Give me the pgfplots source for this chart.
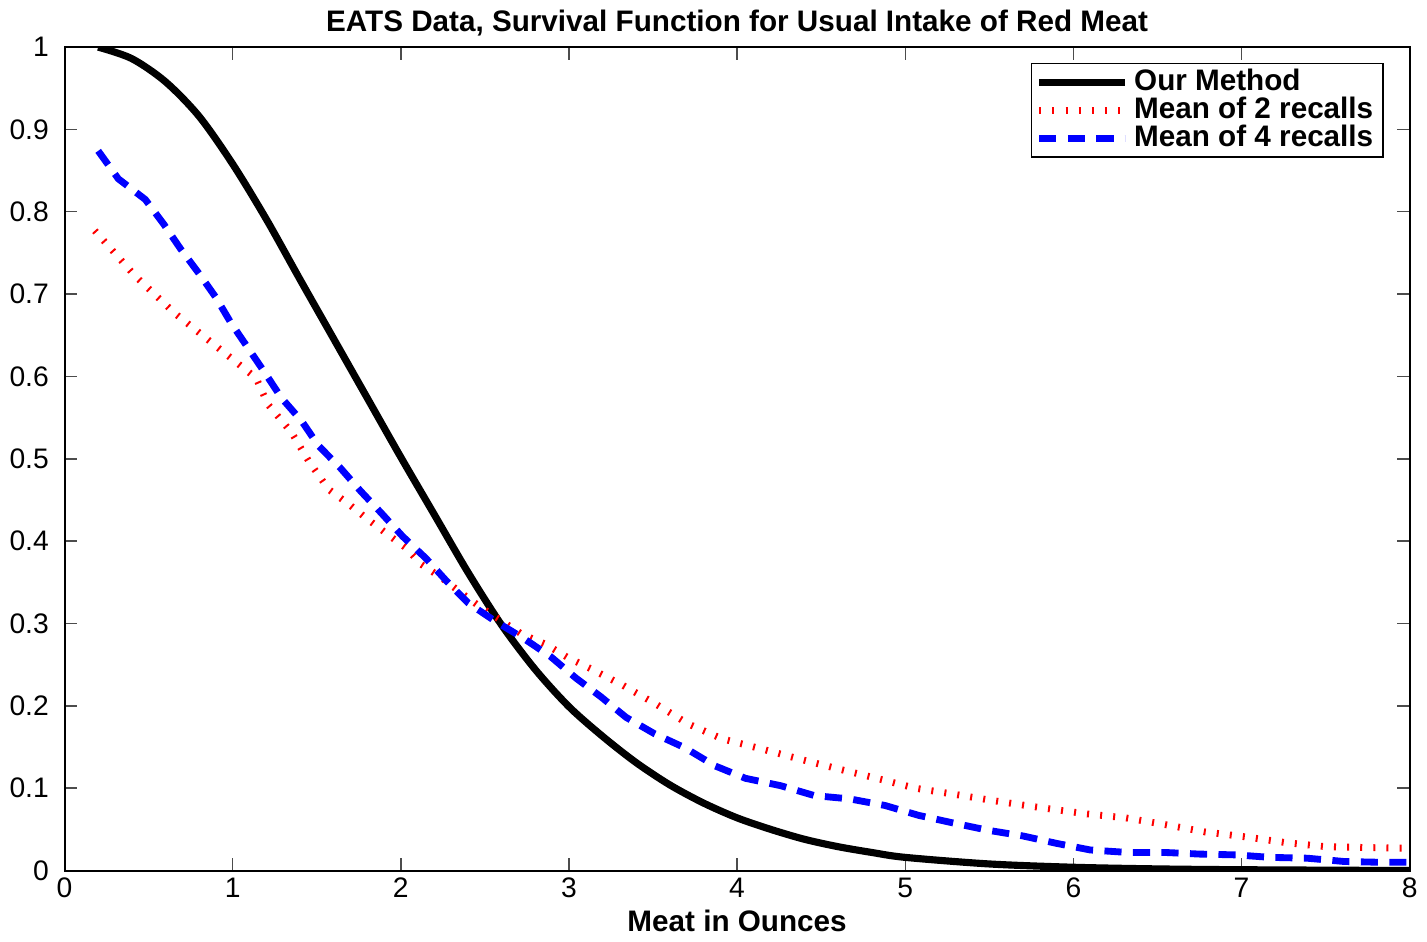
\documentclass[border=0pt]{standalone}
\usepackage{fontspec}
\setmainfont{Liberation Sans}
\usepackage{pgfplots}
\pgfplotsset{compat=1.18}

\begin{document}
\begin{tikzpicture}
\begin{axis}[
  scale only axis,
  width=471.6pt, height=288.7pt,
  xmin=0, xmax=8, ymin=0, ymax=1,
  xtick={0,1,...,8},
  ytick={0,0.1,0.2,0.3,0.4,0.5,0.6,0.7,0.8,0.9,1},
  yticklabels={0,0.1,0.2,0.3,0.4,0.5,0.6,0.7,0.8,0.9,1},
  /pgf/number format/assume math mode=true,
  tick align=inside, major tick length=4.5pt,
  tick style={line width=0.5pt, black!70},
  axis line style={line width=0.7pt},
  ticklabel style={font=\fontsize{9.9}{11}\selectfont},
  xticklabel style={yshift=1pt},
  yticklabel style={xshift=-2pt},
  title={\bfseries EATS Data, Survival Function for Usual Intake of Red Meat},
  title style={font=\fontsize{10.4}{12}\selectfont, yshift=-5.5pt},
  xlabel={\bfseries Meat in Ounces},
  xlabel style={font=\fontsize{10.4}{12}\selectfont, yshift=2.5pt},
  legend style={at={(0.981,0.981)}, anchor=north east,
    font=\bfseries\fontsize{10.4}{12}\selectfont,
    draw=black, line width=0.6pt, inner xsep=1.5pt, inner ysep=0pt,
    row sep=-3.2pt, cells={anchor=west}},
  legend image code/.code={\draw[#1] (0pt,0pt) -- (30pt,0pt);},
]
\addplot[black, line width=2.5pt, smooth, tension=0.5] coordinates {
 (0.2,1.0) (0.4,0.986) (0.6,0.958) (0.8,0.916) (1.0,0.858) (1.2,0.791)
 (1.4,0.718) (1.6,0.646) (1.8,0.574) (2.0,0.502) (2.2,0.432) (2.4,0.362)
 (2.6,0.298) (2.8,0.244) (3.0,0.199) (3.2,0.163) (3.4,0.131) (3.6,0.104)
 (3.8,0.082) (4.0,0.064) (4.2,0.050) (4.4,0.038) (4.6,0.029) (4.8,0.022)
 (5.0,0.016) (5.5,0.008) (6.0,0.004) (6.5,0.002) (7.0,0.001) (8.0,0.0)};
\addlegendentry{Our Method}
\addplot[red, line width=2.4pt, line cap=butt, dash pattern=on 0.7pt off 3.9pt] coordinates {
 (0.18,0.777) (0.42,0.722) (0.66,0.676) (0.90,0.637) (1.14,0.598) (1.21,0.566)
 (1.35,0.532) (1.45,0.498) (1.57,0.463) (1.69,0.445) (1.80,0.427) (1.91,0.41)
 (2.03,0.392) (2.12,0.372) (2.24,0.356) (2.36,0.337) (2.48,0.319) (2.60,0.303)
 (2.72,0.287) (2.86,0.275) (2.99,0.259) (3.13,0.245) (3.32,0.225) (3.51,0.203)
 (3.71,0.178) (3.91,0.16) (4.14,0.148) (4.36,0.136) (4.59,0.124) (4.83,0.112)
 (5.06,0.10) (5.28,0.093) (5.52,0.085) (5.75,0.078) (6.07,0.069) (6.31,0.064)
 (6.54,0.056) (6.78,0.047) (7.02,0.041) (7.26,0.034) (7.50,0.029) (7.73,0.028)
 (8.0,0.027)};
\addlegendentry{Mean of 2 recalls}
\addplot[blue, line width=2.4pt, line cap=butt, dash pattern=on 6pt off 4pt] coordinates {
 (0.2,0.874) (0.32,0.84) (0.48,0.815) (0.59,0.785) (0.69,0.755) (0.80,0.725)
 (0.90,0.696) (0.99,0.665) (1.09,0.635) (1.19,0.605) (1.29,0.574) (1.41,0.546)
 (1.51,0.516) (1.64,0.489) (1.76,0.461) (1.88,0.435) (2.01,0.406) (2.15,0.379)
 (2.27,0.352) (2.40,0.325) (2.56,0.303) (2.73,0.282) (2.89,0.26) (3.04,0.234)
 (3.19,0.211) (3.34,0.186) (3.51,0.166) (3.69,0.149) (3.87,0.127) (4.05,0.112)
 (4.26,0.103) (4.46,0.091) (4.67,0.087) (4.88,0.079) (5.08,0.067) (5.28,0.058)
 (5.49,0.049) (5.70,0.042) (5.90,0.033) (6.10,0.025) (6.32,0.022) (6.54,0.022)
 (6.75,0.020) (6.97,0.019) (7.17,0.016) (7.39,0.015) (7.61,0.011) (7.83,0.010)
 (8.0,0.010)};
\addlegendentry{Mean of 4 recalls}
\end{axis}
\end{tikzpicture}
\end{document}
